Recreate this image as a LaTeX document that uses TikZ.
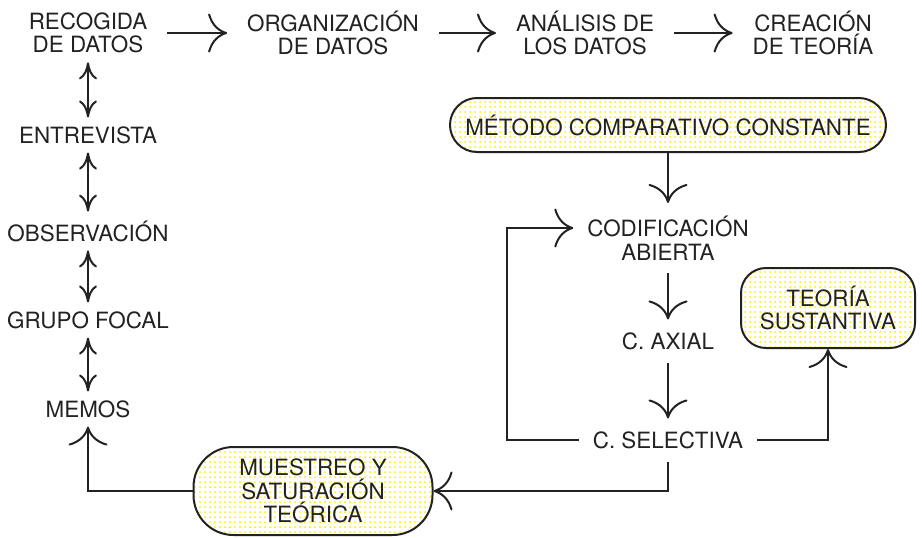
\documentclass[tikz,border=0pt]{standalone}
\usepackage{fontspec}
\setmainfont{TeX Gyre Heros}
\usetikzlibrary{arrows.meta,patterns.meta}
\definecolor{ink}{RGB}{34,34,34}
\definecolor{dotyellow}{RGB}{255,236,0}
\tikzdeclarepattern{name=ydots,type=uncolored,
  bounding box={(-1.25pt,-1.25pt) and (1.25pt,1.25pt)},
  tile size={(2.5pt,2.5pt)},
  code={\pgfpathcircle{\pgfpointorigin}{0.5pt}\pgfusepath{fill}}}
\begin{document}
\begin{tikzpicture}[x=0.5pt,y=-0.5pt,line width=1pt,color=ink,
  font=\fontsize{11.2}{11.8}\selectfont,
  every node/.style={align=center,inner xsep=9.5pt,inner ysep=4pt},
  col/.style={inner xsep=6.5pt,inner ysep=6pt},
  blob/.style={draw,pattern=ydots,pattern color=dotyellow,inner sep=0pt},
  big/.style={-{Computer Modern Rightarrow[length=9.5pt,width=19.5pt]}},
  both/.style={{Computer Modern Rightarrow[length=8.5pt,width=9pt]}-{Computer Modern Rightarrow[length=8.5pt,width=9pt]}}]
\useasboundingbox (0,0) rectangle (922,537);
% top row
\node (rec) at (88,33)  {RECOGIDA\\DE DATOS};
\node (org) at (333,33) {ORGANIZACIÓN\\DE DATOS};
\node (ana) at (585,33) {ANÁLISIS DE\\LOS DATOS};
\node (cre) at (813,33) {CREACIÓN\\DE TEORÍA};
\draw[big] (rec) -- (org);
\draw[big] (org) -- (ana);
\draw[big] (ana) -- (cre);
% left column
\node (ent) at (88,135) {ENTREVISTA};
\node (obs) at (88,231) {OBSERVACIÓN};
\node (gru) at (88,320) {GRUPO FOCAL};
\node (mem) at (88,409) {MEMOS};
\draw[both] (rec) -- (ent);
\draw[both] (ent) -- (obs);
\draw[both] (obs) -- (gru);
\draw[both] (gru) -- (mem);
% right column
\node[blob,minimum width=218pt,minimum height=27pt,rounded corners=13.5pt]
  (met) at (668,125) {MÉTODO COMPARATIVO CONSTANTE};
\node[col] (cod) at (668,238) {CODIFICACIÓN\\ABIERTA};
\node[col] (axi) at (668,341) {C. AXIAL};
\node[col] (sel) at (668,440) {C. SELECTIVA};
\node[blob,minimum width=87pt,minimum height=40pt,rounded corners=12.5pt]
  (teo) at (828,308) {TEORÍA\\SUSTANTIVA};
\node[blob,minimum width=119.5pt,minimum height=44pt,rounded corners=20pt]
  (mue) at (313,491) {MUESTREO Y\\SATURACIÓN\\TEÓRICA};
\draw[big] (met) -- (cod);
\draw[big] (cod) -- (axi);
\draw[big] (axi) -- (sel);
% loops
\draw[big] (sel.west) -- ++(-72,0) |- ([yshift=5pt]cod.west);
\draw[big] (sel) -| (teo);
\draw[big] (sel) |- (mue);
\draw[big] (mue) -| (mem);
\end{tikzpicture}
\end{document}
